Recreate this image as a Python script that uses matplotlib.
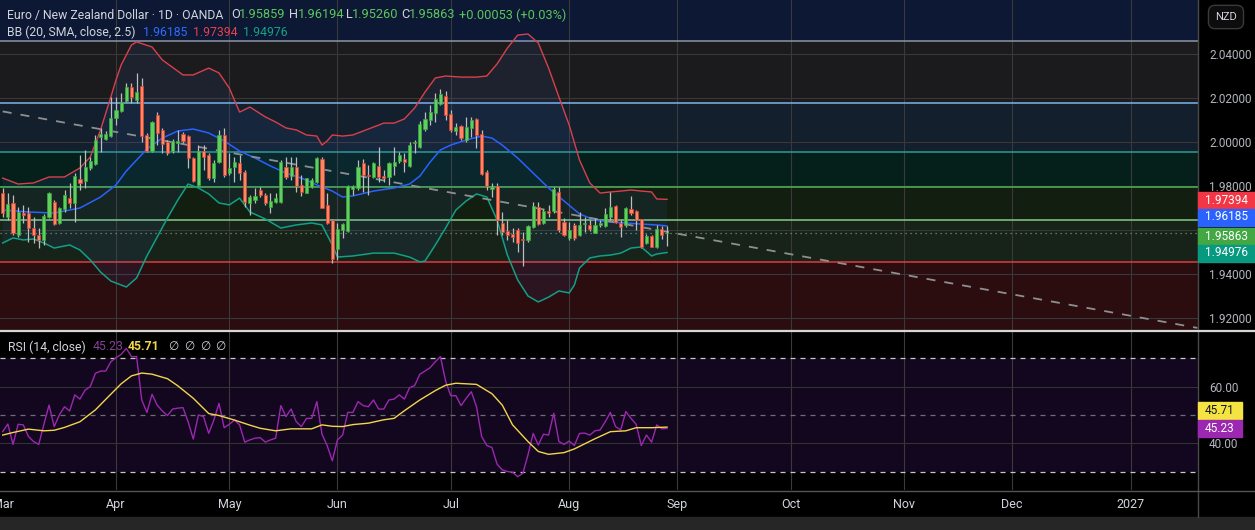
import numpy as np
import pandas as pd
import matplotlib
matplotlib.use('Agg')
import matplotlib.pyplot as plt
from matplotlib.patches import Rectangle
from matplotlib.lines import Line2D

W, H = 1255, 530

# daily candles, first bar on 2026-03-02 (weekdays only)
first_day = '2026-03-02'
opens = [1.9767, 1.9661, 1.9721, 1.9577, 1.9676, 1.9679, 1.9608, 1.9577, 1.9555, 1.9658,
         1.9729, 1.9631, 1.9694, 1.9744, 1.9724, 1.9830, 1.9824, 1.9880, 1.9900, 2.0021,
         2.0014, 2.0027, 2.0111, 2.0142, 2.0188, 2.0248, 2.0191, 2.0255, 2.0032, 1.9961,
         2.0123, 2.0054, 2.0000, 1.9961, 1.9994, 2.0036, 2.0027, 1.9926, 1.9805, 1.9961,
         1.9941, 1.9835, 1.9911, 2.0032, 1.9857, 1.9888, 1.9903, 1.9865, 1.9721, 1.9736,
         1.9782, 1.9760, 1.9706, 1.9729, 1.9729, 1.9885, 1.9846, 1.9885, 1.9805, 1.9770,
         1.9794, 1.9820, 1.9923, 1.9714, 1.9646, 1.9512, 1.9600, 1.9597, 1.9788, 1.9790,
         1.9903, 1.9850, 1.9842, 1.9891, 1.9846, 1.9839, 1.9891, 1.9915, 1.9925, 1.9891,
         1.9994, 1.9976, 2.0058, 2.0100, 2.0130, 2.0173, 2.0209, 2.0127, 2.0052, 2.0073,
         2.0009, 2.0062, 2.0103, 2.0036, 1.9865, 1.9785, 1.9800, 1.9630, 1.9597, 1.9582,
         1.9600, 1.9558, 1.9555, 1.9612, 1.9703, 1.9630, 1.9688, 1.9688, 1.9774, 1.9638,
         1.9562, 1.9623, 1.9577, 1.9627, 1.9623, 1.9588, 1.9623, 1.9618, 1.9658, 1.9709,
         1.9630, 1.9623, 1.9694, 1.9688, 1.9648, 1.9542, 1.9573, 1.9524, 1.9603, 1.95859]
highs = [1.9789, 1.9767, 1.9759, 1.9706, 1.9714, 1.9706, 1.9661, 1.9608, 1.9673, 1.9775,
         1.9737, 1.9706, 1.9782, 1.9812, 1.9858, 1.9941, 1.9964, 1.9934, 2.0032, 2.0062,
         2.0051, 2.0206, 2.0206, 2.0221, 2.0267, 2.0267, 2.0312, 2.0289, 2.0040, 2.0095,
         2.0138, 2.0062, 2.0009, 2.0012, 2.0055, 2.0047, 2.0032, 1.9934, 1.9987, 1.9987,
         1.9952, 1.9918, 2.0055, 2.0062, 1.9948, 1.9934, 1.9941, 1.9873, 1.9759, 1.9789,
         1.9797, 1.9770, 1.9767, 1.9767, 1.9918, 1.9934, 1.9934, 1.9934, 1.9850, 1.9835,
         1.9835, 1.9934, 1.9930, 1.9767, 1.9649, 1.9630, 1.9633, 1.9805, 1.9805, 1.9918,
         1.9921, 1.9895, 1.9911, 1.9976, 1.9873, 1.9911, 1.9976, 1.9956, 1.9948, 2.0001,
         2.0009, 2.0097, 2.0138, 2.0168, 2.0221, 2.0239, 2.0233, 2.0145, 2.0085, 2.0077,
         2.0115, 2.0115, 2.0108, 2.0055, 1.9873, 1.9812, 1.9812, 1.9683, 1.9645, 1.9607,
         1.9607, 1.9592, 1.9623, 1.9729, 1.9729, 1.9694, 1.9714, 1.9797, 1.9797, 1.9653,
         1.9638, 1.9630, 1.9683, 1.9658, 1.9645, 1.9653, 1.9645, 1.9699, 1.9774, 1.9714,
         1.9645, 1.9706, 1.9754, 1.9691, 1.9648, 1.9582, 1.9577, 1.9623, 1.9618, 1.96194]
lows = [1.9661, 1.9646, 1.9577, 1.9570, 1.9630, 1.9547, 1.9539, 1.9517, 1.9532, 1.9653,
        1.9623, 1.9627, 1.9683, 1.9699, 1.9638, 1.9782, 1.9790, 1.9873, 1.9895, 1.9956,
        2.0009, 2.0024, 2.0077, 2.0138, 2.0183, 2.0179, 2.0176, 2.0001, 1.9956, 1.9956,
        1.9986, 1.9948, 1.9941, 1.9952, 1.9956, 1.9994, 1.9880, 1.9820, 1.9800, 1.9873,
        1.9827, 1.9820, 1.9906, 1.9842, 1.9850, 1.9820, 1.9827, 1.9706, 1.9668, 1.9721,
        1.9752, 1.9714, 1.9679, 1.9721, 1.9724, 1.9830, 1.9827, 1.9774, 1.9755, 1.9767,
        1.9790, 1.9815, 1.9699, 1.9627, 1.9449, 1.9464, 1.9562, 1.9592, 1.9761, 1.9782,
        1.9774, 1.9759, 1.9835, 1.9820, 1.9820, 1.9805, 1.9850, 1.9903, 1.9865, 1.9888,
        1.9952, 1.9971, 2.0052, 2.0077, 2.0092, 2.0168, 2.0100, 2.0047, 2.0032, 2.0009,
        2.0002, 2.0021, 1.9971, 1.9850, 1.9782, 1.9749, 1.9577, 1.9577, 1.9555, 1.9547,
        1.9501, 1.9436, 1.9547, 1.9608, 1.9623, 1.9627, 1.9658, 1.9679, 1.9592, 1.9573,
        1.9555, 1.9555, 1.9573, 1.9592, 1.9597, 1.9585, 1.9612, 1.9612, 1.9645, 1.9630,
        1.9570, 1.9615, 1.9668, 1.9600, 1.9517, 1.9536, 1.9521, 1.9517, 1.9558, 1.95260]
closes = [1.9676, 1.9718, 1.9585, 1.9683, 1.9670, 1.9608, 1.9577, 1.9555, 1.9664, 1.9770,
          1.9626, 1.9699, 1.9759, 1.9724, 1.9845, 1.9815, 1.9885, 1.9915, 2.0009, 2.0036,
          2.0036, 2.0108, 2.0145, 2.0183, 2.0248, 2.0206, 2.0229, 2.0027, 1.9961, 2.0092,
          2.0042, 1.9991, 1.9948, 2.0006, 2.0006, 2.0006, 1.9926, 1.9824, 1.9961, 1.9930,
          1.9835, 1.9906, 2.0032, 1.9850, 1.9880, 1.9911, 1.9861, 1.9729, 1.9748, 1.9756,
          1.9759, 1.9721, 1.9733, 1.9744, 1.9911, 1.9839, 1.9888, 1.9800, 1.9773, 1.9835,
          1.9827, 1.9929, 1.9699, 1.9630, 1.9467, 1.9603, 1.9627, 1.9800, 1.9800, 1.9885,
          1.9850, 1.9846, 1.9906, 1.9839, 1.9835, 1.9906, 1.9911, 1.9941, 1.9911, 1.9986,
          2.0001, 2.0082, 2.0103, 2.0138, 2.0194, 2.0218, 2.0123, 2.0055, 2.0070, 2.0017,
          2.0070, 2.0100, 2.0032, 1.9854, 1.9800, 1.9794, 1.9646, 1.9592, 1.9577, 1.9570,
          1.9542, 1.9555, 1.9618, 1.9709, 1.9627, 1.9688, 1.9676, 1.9785, 1.9600, 1.9577,
          1.9600, 1.9562, 1.9623, 1.9633, 1.9603, 1.9623, 1.9630, 1.9673, 1.9703, 1.9638,
          1.9615, 1.9698, 1.9676, 1.9645, 1.9521, 1.9573, 1.9524, 1.9603, 1.9577, 1.95863]

# bollinger bands (bar index, price)
bb_up_idx = [0, 3, 6, 9, 12, 15, 17, 19, 21, 22, 23, 25, 26, 29, 31, 35, 37, 40, 42, 44,
             46, 48, 51, 53, 55, 57, 59, 61, 62, 63, 64, 66, 68, 70, 72, 74, 76, 78, 80, 82,
             84, 86, 89, 92, 94, 96, 98, 100, 102, 104, 106, 108, 110, 112, 114, 116, 118, 120, 122, 124,
             126, 127, 129]
bb_up = [1.9836, 1.9809, 1.9814, 1.9841, 1.9841, 1.9882, 1.9932, 2.0055, 2.0205, 2.0282,
         2.0350, 2.0441, 2.0455, 2.0432, 2.0373, 2.0305, 2.0305, 2.0336, 2.0314, 2.0245,
         2.0136, 2.0159, 2.0114, 2.0091, 2.0064, 2.0055, 2.0032, 2.0027, 1.9986, 2.0005,
         2.0032, 2.0027, 2.0032, 2.0050, 2.0068, 2.0086, 2.0086, 2.0105, 2.0155, 2.0227,
         2.0291, 2.0300, 2.0295, 2.0295, 2.0300, 2.0355, 2.0427, 2.0486, 2.0491, 2.0450,
         2.0336, 2.0205, 2.0077, 1.9918, 1.9814, 1.9768, 1.9773, 1.9777, 1.9782, 1.9777,
         1.9773, 1.9741, 1.97394]
bb_mid_idx = [0, 5, 10, 15, 19, 22, 24, 26, 28, 31, 34, 37, 40, 43, 46, 49, 52, 55, 58, 61,
              64, 66, 68, 72, 76, 79, 81, 83, 85, 87, 90, 93, 95, 97, 100, 103, 106, 109, 112, 115,
              118, 121, 124, 127, 129]
bb_mid = [1.9691, 1.9682, 1.9677, 1.9700, 1.9750, 1.9805, 1.9868, 1.9918, 1.9968, 2.0018,
          2.0050, 2.0059, 2.0041, 2.0005, 1.9959, 1.9927, 1.9891, 1.9859, 1.9836, 1.9805,
          1.9777, 1.9750, 1.9755, 1.9777, 1.9791, 1.9809, 1.9845, 1.9909, 1.9964, 1.9986,
          2.0009, 2.0027, 2.0018, 1.9986, 1.9927, 1.9859, 1.9791, 1.9732, 1.9673, 1.9645,
          1.9636, 1.9632, 1.9627, 1.9623, 1.96185]
bb_lo_idx = [0, 2, 4, 6, 8, 10, 13, 15, 17, 19, 21, 23, 24, 26, 28, 30, 32, 34, 36, 38,
             40, 42, 44, 46, 48, 51, 54, 57, 60, 62, 64, 65, 68, 72, 76, 79, 81, 82, 84, 86,
             88, 90, 92, 94, 96, 98, 100, 102, 104, 106, 108, 110, 111, 112, 114, 116, 118, 120, 122, 124,
             126, 127, 129]
bb_lo = [1.9541, 1.9564, 1.9555, 1.9559, 1.9541, 1.9518, 1.9532, 1.9509, 1.9464, 1.9409,
         1.9368, 1.9350, 1.9341, 1.9382, 1.9482, 1.9568, 1.9655, 1.9736, 1.9809, 1.9791,
         1.9764, 1.9723, 1.9714, 1.9745, 1.9682, 1.9650, 1.9609, 1.9623, 1.9632, 1.9623,
         1.9532, 1.9477, 1.9482, 1.9495, 1.9495, 1.9477, 1.9455, 1.9459, 1.9532, 1.9609,
         1.9691, 1.9732, 1.9764, 1.9750, 1.9645, 1.9486, 1.9373, 1.9300, 1.9273, 1.9295,
         1.9323, 1.9314, 1.9350, 1.9427, 1.9473, 1.9482, 1.9486, 1.9495, 1.9518, 1.9523,
         1.9482, 1.9491, 1.94976]

rsi = [44.1, 46.8, 39.6, 46.7, 46.5, 42.4, 40.6, 39.6, 46.7, 53.5,
       45.9, 50.0, 52.9, 51.4, 57.1, 55.6, 58.8, 60.0, 64.7, 65.5,
       65.5, 68.8, 70.2, 71.4, 73.5, 70.6, 70.6, 55.3, 50.9, 57.3,
       53.5, 51.4, 49.8, 52.1, 52.4, 52.6, 47.6, 41.5, 50.0, 49.4,
       43.5, 48.2, 54.1, 45.5, 46.7, 48.2, 46.5, 40.4, 41.2, 41.8,
       42.0, 40.4, 41.2, 41.8, 53.3, 49.4, 52.1, 47.6, 45.9, 48.8,
       48.8, 54.7, 43.2, 39.2, 33.8, 41.2, 42.9, 50.9, 50.9, 54.7,
       53.3, 52.9, 55.3, 52.1, 52.1, 55.3, 55.6, 57.1, 55.6, 59.6,
       60.4, 64.4, 65.5, 66.7, 68.8, 70.6, 62.0, 56.8, 56.8, 53.3,
       55.9, 58.2, 52.9, 42.4, 39.2, 38.5, 32.6, 30.6, 30.0, 29.8,
       28.2, 29.4, 35.9, 43.5, 39.4, 43.2, 42.9, 50.6, 40.6, 39.6,
       40.8, 39.2, 43.5, 43.6, 42.9, 44.4, 44.7, 47.6, 50.9, 45.9,
       44.7, 51.2, 48.8, 46.7, 39.2, 42.9, 40.4, 46.5, 45.1, 45.23]
rsi_ma_idx = [0, 2, 5, 8, 10, 12, 15, 18, 20, 23, 25, 27, 29, 32, 34, 37, 40, 42, 45, 48,
              50, 53, 56, 60, 62, 64, 66, 68, 71, 74, 76, 78, 81, 84, 86, 88, 92, 95, 97, 99,
              102, 104, 106, 109, 111, 115, 118, 121, 123, 126, 129]
rsi_ma = [42.9, 43.8, 45.0, 44.4, 44.6, 45.6, 47.6, 51.8, 55.5, 61.0,
          63.8, 64.8, 64.4, 62.8, 60.3, 55.9, 50.5, 49.8, 48.2, 46.4,
          45.3, 44.4, 45.1, 45.1, 46.5, 46.0, 45.9, 46.6, 47.1, 48.3,
          48.8, 51.5, 55.3, 58.6, 60.5, 61.2, 60.8, 57.5, 53.5, 46.5,
          40.6, 37.1, 36.1, 36.7, 38.0, 41.6, 44.1, 44.4, 45.5, 45.5, 45.71]

# horizontal levels drawn on the chart and the zones between them (top to bottom)
levels = [2.0459, 2.0176, 1.9953, 1.9797, 1.9644, 1.9453]
level_colors = ['#8c96a8', '#7db4e8', '#2a9d8f', '#52b357', '#86cc86', '#e0393e']
zone_colors = ['#0c1834', '#1b1b1d', '#131f2d', '#05201b', '#121e10', '#172318', '#2b0c0f']

trend_idx = [0, 232]
trend_price = [2.0139, 1.9155]

last_close = 1.95863

plt.rcParams['font.family'] = ['Roboto', 'DejaVu Sans']

fig = plt.figure(figsize=(W / 100, H / 100), dpi=100, facecolor='black')
ax1 = fig.add_axes([0, 1 - 330 / H, 1198 / W, 330 / H])
ax2 = fig.add_axes([0, 1 - 490 / H, 1198 / W, 159 / H], sharex=ax1)

xmin, xmax = -2.7 / 5.15, (1198 - 2.7) / 5.15
ymin, ymax = 1.91455, 2.06455

# zones
bounds = [ymax] + levels + [ymin]
for k, col in enumerate(zone_colors):
    ax1.axhspan(bounds[k + 1], bounds[k], color=col, lw=0, zorder=0)

# month grid
days = pd.bdate_range(first_day, periods=240)
month_idx = [i for i in range(len(days)) if i > 0 and days[i].month != days[i - 1].month and i < xmax]
month_idx = [0] + month_idx
month_lab = [str(days[i].year) if days[i].month == 1 else days[i].strftime('%b') for i in month_idx]

for ax in (ax1, ax2):
    for m in month_idx[1:]:
        ax.axvline(m, color='#3a3a3a', lw=0.8, zorder=0.5)
for p in np.arange(1.92, 2.041, 0.02):
    ax1.axhline(p, color='#383838', lw=0.8, zorder=0.5)

for lv, col in zip(levels, level_colors):
    ax1.axhline(lv, color=col, lw=1.1, zorder=1)

ax1.axhline(last_close, color='#7fb97f', lw=0.9, ls=(0, (1, 3)), alpha=0.8, zorder=1)

# bollinger fill + lines
ax1.fill(np.r_[bb_up_idx, bb_lo_idx[::-1]], np.r_[bb_up, bb_lo[::-1]],
         color='#3d7bff', alpha=0.08, lw=0, zorder=1.2)
ax1.plot(bb_up_idx, bb_up, color='#d8404c', lw=1.0, zorder=2)
ax1.plot(bb_mid_idx, bb_mid, color='#2962ff', lw=1.1, zorder=2)
ax1.plot(bb_lo_idx, bb_lo, color='#11a085', lw=1.1, zorder=2)

ax1.plot(trend_idx, trend_price, color='#8f8f8f', lw=1.3, dashes=(5, 5), zorder=2.5)

# candles
o = np.array(opens); h = np.array(highs); l = np.array(lows); c = np.array(closes)
x = np.arange(len(c))
up = c >= o
ax1.vlines(x, l, h, color='#bdbdbd', lw=0.9, zorder=3)
bot = np.minimum(o, c)
hgt = np.maximum(np.abs(c - o), 0.00025)
ax1.bar(x[up], hgt[up], bottom=bot[up], width=0.62, color='#5fd05f', edgecolor='#3aa83a', lw=0.5, zorder=4)
ax1.bar(x[~up], hgt[~up], bottom=bot[~up], width=0.62, color='#f88a62', edgecolor='#e23c36', lw=0.5, zorder=4)

ax1.set_xlim(xmin, xmax)
ax1.set_ylim(ymin, ymax)
ax1.set_facecolor('black')
ax1.yaxis.tick_right()
ax1.set_yticks([1.92, 1.94, 1.98, 2.00, 2.02, 2.04])
ax1.set_yticklabels(['%.5f' % v for v in [1.92, 1.94, 1.98, 2.00, 2.02, 2.04]])
ax1.tick_params(axis='y', length=0, pad=8, labelsize=8.5, colors='#b2b5be')
ax1.tick_params(axis='x', length=0, labelbottom=False)
for s in ax1.spines.values():
    s.set_visible(False)

# RSI pane
ax2.set_facecolor('black')
ax2.axhspan(30, 70, color='#12071e', lw=0, zorder=0)
ax2.axhline(60, color='#333333', lw=0.8, zorder=0.5)
ax2.axhline(40, color='#333333', lw=0.8, zorder=0.5)
ax2.axhline(70, color='#c8c8c8', lw=0.9, dashes=(4, 4), zorder=1)
ax2.axhline(30, color='#c8c8c8', lw=0.9, dashes=(4, 4), zorder=1)
ax2.axhline(50, color='#6e6e7a', lw=0.9, dashes=(4, 4), zorder=1)
ax2.plot(x, rsi, color='#9c27b0', lw=1.0, zorder=2)
ax2.plot(rsi_ma_idx, rsi_ma, color='#f2d64b', lw=1.0, zorder=3)
ax2.set_ylim(23.5, 79.65)
ax2.yaxis.tick_right()
ax2.set_yticks([40, 60])
ax2.set_yticklabels(['40.00', '60.00'])
ax2.tick_params(axis='y', length=0, pad=8, labelsize=8.5, colors='#b2b5be')
ax2.set_xticks(month_idx)
ax2.set_xticklabels(month_lab)
ax2.tick_params(axis='x', length=0, pad=6, labelsize=9, colors='#d1d4dc')
for s in ax2.spines.values():
    s.set_visible(False)


def ptxt(px, py, s, **kw):
    fig.text(px / W, 1 - py / H, s, va='center', **kw)


def pbox(py, s, bg, fg, width=57):
    fig.patches.append(Rectangle((1198 / W, 1 - (py + 8.5) / H), width / W, 17 / H,
                                 transform=fig.transFigure, color=bg, zorder=5))
    ptxt(1198 + width / 2, py, s, ha='center', color=fg, fontsize=8.5, zorder=6)


# frame lines
fig.add_artist(Line2D([1198 / W] * 2, [1 - 517 / H, 1], color='#4a4a4a', lw=1))
fig.add_artist(Line2D([0, 1], [1 - 330.5 / H] * 2, color='#d6d6d6', lw=1.6))
fig.add_artist(Line2D([0, 1], [1 - 490.5 / H] * 2, color='#555555', lw=1))
fig.patches.append(Rectangle((0, 0), 1, 13 / H, transform=fig.transFigure, color='#262626'))

# header legend
txt = '#d1d4dc'
grn = '#5cc65c'
ptxt(7, 15, 'Euro / New Zealand Dollar · 1D · OANDA', color=txt, fontsize=8.8)
for px, s, col in [(231, 'O', txt), (239, '1.95859', grn), (289, 'H', txt), (298, '1.96194', grn),
                   (346, 'L', txt), (352, '1.95260', grn), (401, 'C', txt), (409, '1.95863', grn),
                   (459, '+0.00053 (+0.03%)', grn)]:
    ptxt(px, 15, s, color=col, fontsize=9.2)
ptxt(7, 32, 'BB (20, SMA, close, 2.5)', color=txt, fontsize=8.8)
ptxt(143, 32, '1.96185', color='#2e6bff', fontsize=8.8)
ptxt(193, 32, '1.97394', color='#e8404e', fontsize=8.8)
ptxt(243, 32, '1.94976', color='#14a38a', fontsize=8.8)

ptxt(8, 347, 'RSI (14, close)', color=txt, fontsize=8.8)
ptxt(93, 347, '45.23', color='#8a3d9c', fontsize=8.8)
ptxt(128, 347, '45.71', color='#f2d64b', fontsize=8.8, fontweight='bold')
for px in [168, 184, 200, 215]:
    ptxt(px, 347, '∅', color=txt, fontsize=8.5, family=['DejaVu Sans'])

# NZD button
ptxt(1226, 17, 'NZD', ha='center', color=txt, fontsize=8,
     bbox=dict(boxstyle='round,pad=0.6', fc='#0d0d0d', ec='#3a3a3a', lw=1))

# price scale labels
pbox(200, '1.97394', '#f23645', 'white')
pbox(217, '1.96185', '#2962ff', 'white')
pbox(236, '1.95863', '#43a843', 'white')
pbox(253, '1.94976', '#089981', 'white')
pbox(410, '45.71', '#f5e342', '#131722', width=44)
pbox(428, '45.23', '#9c27b0', 'white', width=44)

fig.savefig('out.png', dpi=100, facecolor='black')
